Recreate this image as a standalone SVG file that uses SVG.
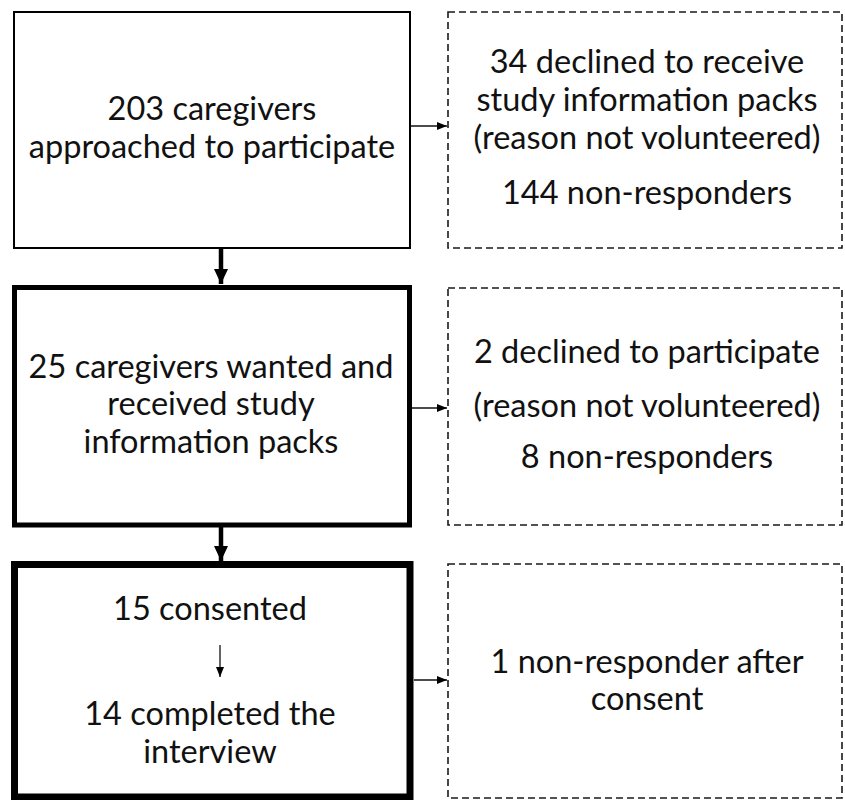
<svg xmlns="http://www.w3.org/2000/svg" width="845" height="800" viewBox="0 0 845 800">
<defs>
<style>
text{font-family:Lato,"Open Sans","Liberation Sans",sans-serif;font-size:32.5px;fill:#111;text-anchor:middle}
.solid{fill:#fff;stroke:#000}
.dash{fill:#fff;stroke:#1a1a1a;stroke-width:1.6;stroke-dasharray:7 4}
.thin{stroke:#111;stroke-width:1.3;fill:none}
.thick{stroke:#000;stroke-width:4.5;fill:none}
</style>
<marker id="ah" viewBox="0 0 10 8" refX="10" refY="4" markerWidth="10" markerHeight="8" markerUnits="userSpaceOnUse" orient="auto"><path d="M0,0 L10,4 L0,8 Z" fill="#000"/></marker>
<marker id="ahb" viewBox="0 0 15 14" refX="15" refY="7" markerWidth="15" markerHeight="14" markerUnits="userSpaceOnUse" orient="auto"><path d="M0,0 L15,7 L0,14 Z" fill="#000"/></marker>
</defs>
<g id="n1">
<rect class="solid" x="14" y="12" width="396" height="236" stroke-width="2"/>
<text x="212" y="120">203 caregivers</text>
<text x="212" y="158">approached to participate</text>
</g>
<g id="d1">
<rect class="dash" x="448" y="12" width="394" height="236"/>
<text x="647" y="73">34 declined to receive</text>
<text x="647" y="111">study information packs</text>
<text x="647" y="149">(reason not volunteered)</text>
<text x="647" y="204">144 non-responders</text>
</g>
<g id="n2">
<rect class="solid" x="14.5" y="287.5" width="395" height="237.5" stroke-width="5"/>
<text x="211" y="378">25 caregivers wanted and</text>
<text x="211" y="415">received study</text>
<text x="211" y="453">information packs</text>
</g>
<g id="d2">
<rect class="dash" x="448" y="288" width="394" height="237"/>
<text x="647" y="363">2 declined to participate</text>
<text x="647" y="417">(reason not volunteered)</text>
<text x="647" y="468">8 non-responders</text>
</g>
<g id="n3">
<rect class="solid" x="14.5" y="564.5" width="395.5" height="232.5" stroke-width="7"/>
<text x="210" y="620">15 consented</text>
<text x="210" y="725">14 completed the</text>
<text x="210" y="763">interview</text>
</g>
<g id="d3">
<rect class="dash" x="448" y="564" width="394" height="234"/>
<text x="647" y="673">1 non-responder after</text>
<text x="647" y="710">consent</text>
</g>
<g id="connectors">
<line class="thick" x1="221" y1="249" x2="221" y2="284" marker-end="url(#ahb)"/>
<line class="thick" x1="221" y1="526" x2="221" y2="561" marker-end="url(#ahb)"/>
<line class="thin" x1="411" y1="126" x2="447" y2="126" marker-end="url(#ah)"/>
<line class="thin" x1="412" y1="408" x2="447" y2="408" marker-end="url(#ah)"/>
<line class="thin" x1="414" y1="680" x2="447" y2="680" marker-end="url(#ah)"/>
<line class="thin" x1="220" y1="645" x2="220" y2="677" marker-end="url(#ah)"/>
</g>
</svg>
